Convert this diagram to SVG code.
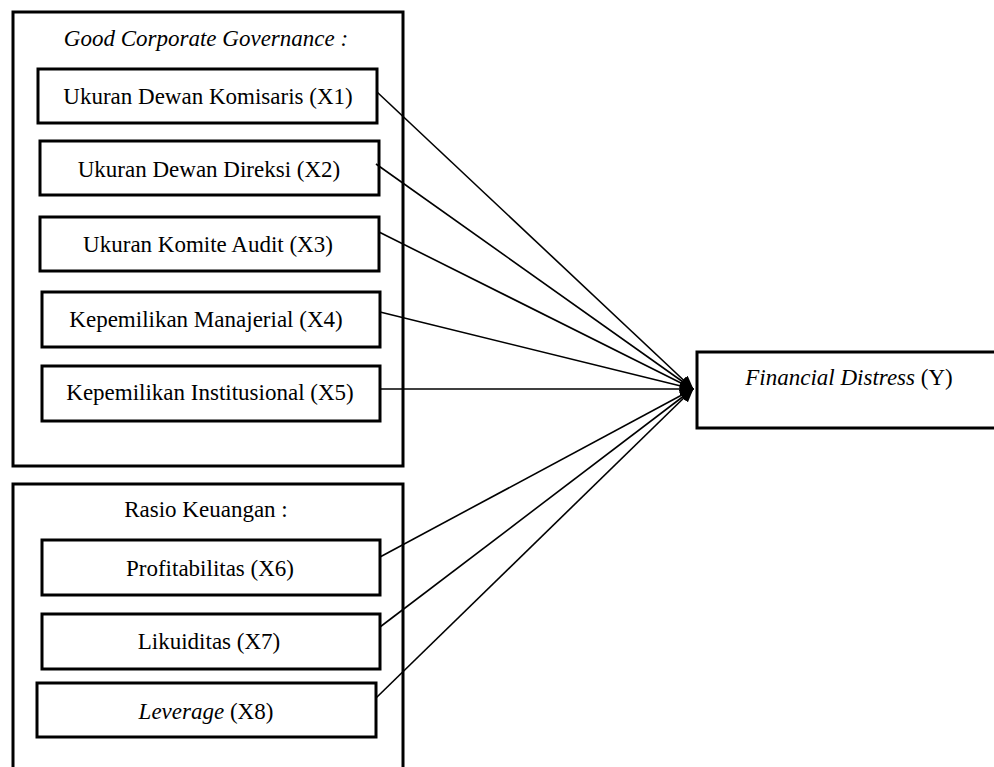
<svg xmlns="http://www.w3.org/2000/svg" width="994" height="767" viewBox="0 0 994 767">
<style>
.box{fill:#fff;stroke:#000;stroke-width:3}
.t{font-family:"Liberation Serif","Times New Roman",serif;font-size:23px;fill:#000;text-anchor:middle}
.i{font-style:italic}
.c{stroke:#000;stroke-width:1.6;fill:none;marker-end:url(#ah)}
</style>
<defs>
<marker id="ah" markerUnits="userSpaceOnUse" markerWidth="14" markerHeight="12" refX="13" refY="6" orient="auto">
<path d="M0,0 L14,6 L0,12 Z" fill="#000"/>
</marker>
</defs>
<rect width="994" height="767" fill="#fff"/>
<g id="gcg">
<rect class="box" x="13" y="12" width="390" height="454"/>
<text class="t i" x="206" y="46">Good Corporate Governance :</text>
</g>
<g id="rasio">
<rect class="box" x="13" y="484" width="390" height="300"/>
<text class="t" x="206" y="517">Rasio Keuangan :</text>
</g>
<g id="x1"><rect class="box" x="38" y="69" width="339" height="54"/><text class="t" x="208" y="104">Ukuran Dewan Komisaris (X1)</text></g>
<g id="x2"><rect class="box" x="40" y="141" width="339" height="54"/><text class="t" x="209" y="177">Ukuran Dewan Direksi (X2)</text></g>
<g id="x3"><rect class="box" x="40" y="217" width="339" height="54"/><text class="t" x="208" y="252">Ukuran Komite Audit (X3)</text></g>
<g id="x4"><rect class="box" x="42" y="292" width="338" height="55"/><text class="t" x="206" y="327">Kepemilikan Manajerial (X4)</text></g>
<g id="x5"><rect class="box" x="42" y="366" width="338" height="55"/><text class="t" x="210" y="400">Kepemilikan Institusional (X5)</text></g>
<g id="x6"><rect class="box" x="42" y="540" width="338" height="55"/><text class="t" x="210" y="576">Profitabilitas (X6)</text></g>
<g id="x7"><rect class="box" x="42" y="614" width="338" height="55"/><text class="t" x="209" y="649">Likuiditas (X7)</text></g>
<g id="x8"><rect class="box" x="37" y="683" width="339" height="54"/><text class="t" x="206" y="719"><tspan class="i">Leverage</tspan> (X8)</text></g>
<g id="y"><rect class="box" x="697" y="352" width="310" height="76"/><text class="t" x="849" y="385"><tspan class="i">Financial Distress</tspan> (Y)</text></g>
<g id="connectors">
<line class="c" x1="377" y1="92" x2="693" y2="389"/>
<line class="c" x1="376" y1="164" x2="693" y2="389"/>
<line class="c" x1="379" y1="232" x2="693" y2="389"/>
<line class="c" x1="380" y1="312" x2="693" y2="389"/>
<line class="c" x1="380" y1="389" x2="693" y2="389"/>
<line class="c" x1="380" y1="557" x2="693" y2="389"/>
<line class="c" x1="380" y1="627" x2="693" y2="389"/>
<line class="c" x1="376" y1="698" x2="693" y2="389"/>
</g>
</svg>
